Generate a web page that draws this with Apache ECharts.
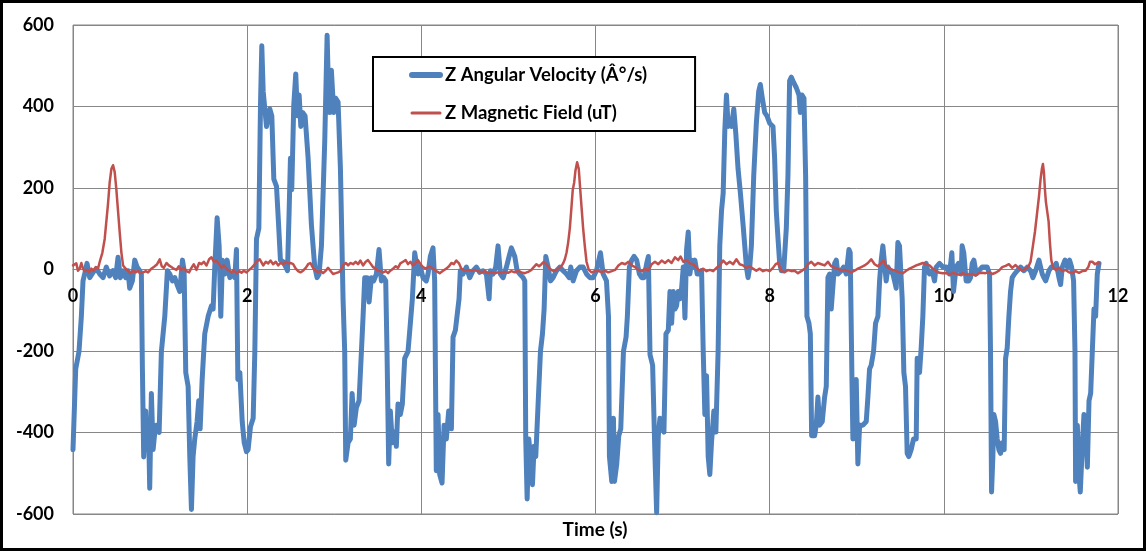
<!DOCTYPE html>
<html><head><meta charset="utf-8">
<script src="https://cdn.jsdelivr.net/npm/echarts@6/dist/echarts.min.js"></script>
<style>html,body{margin:0;padding:0;background:#fff}#c{width:1146px;height:551px}</style>
</head><body><div id="c"></div>
<script>
const xTicks = [0, 2, 4, 6, 8, 10, 12];
const yTicks = [-600, -400, -200, 0, 200, 400, 600];
const seriesNames = ['Z Angular Velocity (Â°/s)', 'Z Magnetic Field (uT)'];

const angTime = [0,0.031,0.069,0.096,0.115,0.134,0.161,0.192,0.230,0.268,0.307,0.345,0.383,0.421,0.460,0.490,0.517,0.544,0.575,0.605,0.632,0.651,0.682,0.709,0.736,0.766,0.785,0.797,0.812,0.835,0.851,0.866,0.881,0.900,0.920,0.939,0.958,0.989,1.015,1.054,1.084,1.111,1.142,1.169,1.195,1.226,1.257,1.276,1.295,1.322,1.341,1.360,1.379,1.398,1.425,1.444,1.460,1.483,1.513,1.552,1.590,1.609,1.628,1.655,1.678,1.697,1.716,1.743,1.770,1.801,1.828,1.858,1.877,1.893,1.916,1.943,1.966,1.992,2.011,2.038,2.069,2.088,2.107,2.134,2.153,2.168,2.184,2.203,2.222,2.241,2.260,2.283,2.306,2.337,2.363,2.382,2.413,2.444,2.463,2.482,2.497,2.512,2.535,2.558,2.577,2.597,2.616,2.639,2.665,2.700,2.738,2.776,2.803,2.826,2.853,2.891,2.918,2.933,2.948,2.967,2.994,3.017,3.044,3.071,3.101,3.120,3.132,3.159,3.185,3.205,3.228,3.254,3.285,3.312,3.331,3.350,3.377,3.400,3.426,3.453,3.484,3.514,3.541,3.568,3.591,3.606,3.625,3.644,3.667,3.694,3.713,3.732,3.759,3.782,3.809,3.847,3.874,3.897,3.924,3.943,3.962,3.989,4.019,4.057,4.077,4.103,4.134,4.153,4.172,4.192,4.211,4.238,4.261,4.287,4.314,4.345,4.364,4.391,4.410,4.433,4.448,4.479,4.517,4.556,4.594,4.632,4.670,4.709,4.747,4.778,4.793,4.824,4.854,4.881,4.908,4.939,4.977,5.008,5.034,5.073,5.100,5.130,5.169,5.188,5.199,5.215,5.234,5.253,5.276,5.295,5.314,5.341,5.368,5.391,5.410,5.429,5.456,5.483,5.513,5.552,5.590,5.628,5.667,5.697,5.716,5.743,5.782,5.820,5.858,5.897,5.935,5.973,6.011,6.038,6.057,6.088,6.126,6.149,6.160,6.187,6.206,6.218,6.244,6.267,6.290,6.321,6.351,6.366,6.389,6.416,6.443,6.473,6.504,6.531,6.557,6.588,6.607,6.626,6.656,6.683,6.702,6.721,6.740,6.760,6.786,6.809,6.836,6.855,6.874,6.893,6.912,6.931,6.950,6.969,6.989,7.008,7.027,7.046,7.065,7.084,7.103,7.122,7.141,7.168,7.198,7.218,7.237,7.256,7.275,7.294,7.313,7.332,7.359,7.382,7.408,7.427,7.447,7.466,7.485,7.504,7.523,7.542,7.561,7.588,7.611,7.637,7.664,7.695,7.714,7.733,7.752,7.771,7.790,7.817,7.847,7.874,7.893,7.916,7.943,7.969,8.000,8.038,8.057,8.076,8.096,8.115,8.134,8.161,8.191,8.210,8.229,8.249,8.275,8.306,8.337,8.352,8.371,8.394,8.413,8.428,8.451,8.467,8.482,8.516,8.535,8.554,8.574,8.604,8.631,8.650,8.669,8.688,8.707,8.727,8.746,8.765,8.784,8.822,8.849,8.880,8.910,8.925,8.945,8.956,8.975,8.994,9.013,9.033,9.071,9.109,9.128,9.147,9.166,9.193,9.216,9.243,9.262,9.281,9.300,9.319,9.338,9.358,9.384,9.415,9.434,9.453,9.472,9.491,9.522,9.541,9.560,9.579,9.598,9.625,9.652,9.683,9.694,9.721,9.740,9.759,9.778,9.797,9.816,9.836,9.866,9.893,9.912,9.950,9.989,10.027,10.065,10.092,10.111,10.141,10.168,10.199,10.210,10.229,10.256,10.287,10.307,10.326,10.345,10.372,10.402,10.441,10.471,10.498,10.525,10.536,10.548,10.563,10.575,10.594,10.613,10.632,10.651,10.670,10.693,10.709,10.728,10.747,10.766,10.785,10.812,10.843,10.881,10.920,10.958,10.996,11.023,11.054,11.092,11.111,11.130,11.149,11.169,11.207,11.234,11.264,11.291,11.322,11.341,11.360,11.391,11.418,11.444,11.467,11.490,11.506,11.513,11.533,11.552,11.567,11.590,11.609,11.628,11.648,11.667,11.686,11.705,11.724,11.743,11.762,11.782];
const angVel = [-442,-244,-201,-115,-28,-11,15,-20,-7,2,-11,-20,6,-16,-3,-20,30,-20,-3,-20,-3,-46,-28,23,6,-3,-11,-244,-460,-347,-442,-373,-537,-304,-442,-400,-382,-400,-201,-115,-3,-11,-28,-20,-37,-54,23,-3,-253,-287,-459,-589,-459,-416,-373,-322,-391,-270,-158,-115,-89,-97,6,127,58,-115,23,-11,23,-20,-11,-20,49,-270,-253,-373,-425,-447,-442,-386,-365,-201,75,101,403,549,437,394,351,351,394,377,222,204,101,23,19,6,-3,144,273,196,403,480,377,428,351,385,377,273,109,6,-20,-11,58,316,575,446,385,489,385,420,411,247,-72,-201,-468,-425,-416,-304,-382,-339,-322,-201,-115,-20,-20,-80,-20,-28,-11,49,-28,-20,-28,-201,-477,-347,-425,-399,-434,-330,-356,-330,-218,-201,-132,-72,41,41,-11,6,-20,-28,-11,32,53,-28,-494,-356,-503,-524,-382,-416,-347,-391,-166,-149,-149,-72,-3,-11,6,-20,-3,6,-7,-3,-11,-72,-3,-11,6,58,-11,-20,6,32,53,32,-3,-11,-20,-28,-416,-563,-416,-459,-528,-434,-459,-330,-201,-158,-97,32,6,-28,-20,-3,6,-3,-11,-20,6,-28,-3,6,6,-11,-20,-20,-3,23,41,-11,-28,-115,-459,-520,-365,-520,-477,-408,-391,-201,-166,-115,6,23,32,23,-11,-20,-20,15,32,-209,-235,-459,-597,-408,-365,-373,-399,-158,-149,-54,-132,-54,-97,-89,-54,-72,-46,6,-119,49,92,-11,23,6,23,-11,-11,-3,-201,-356,-261,-459,-503,-425,-347,-399,-201,58,144,187,342,428,351,359,351,394,334,247,187,109,58,6,-20,6,58,230,359,437,454,420,385,377,359,351,273,144,75,15,-3,-3,101,230,463,472,459,446,428,385,428,420,230,-115,-132,-158,-408,-408,-382,-313,-382,-373,-313,-287,-20,-11,-97,-97,15,23,-11,-3,6,-11,49,41,-270,-416,-416,-270,-477,-382,-382,-373,-313,-244,-235,-201,-132,-115,-28,23,58,58,-28,6,-3,-11,-28,-46,66,58,-72,-253,-287,-451,-459,-442,-416,-416,-218,-253,-192,-115,6,15,-3,-11,-3,-28,6,15,6,6,-11,41,-54,6,15,-11,58,41,-28,-28,-20,15,23,-11,-3,6,6,6,-11,-201,-546,-459,-356,-373,-416,-442,-451,-425,-442,-218,-192,-115,-54,-20,-11,-3,6,-3,6,-3,-20,-3,23,23,-11,-20,-28,-3,6,6,15,-20,-37,6,23,6,23,6,-28,-201,-520,-382,-503,-546,-434,-356,-373,-485,-322,-304,-201,-97,-115,-11,15];

const magTime = [0,0.019,0.038,0.057,0.077,0.096,0.115,0.134,0.161,0.184,0.211,0.238,0.261,0.287,0.307,0.337,0.364,0.383,0.402,0.421,0.441,0.460,0.479,0.498,0.517,0.536,0.556,0.575,0.605,0.632,0.659,0.690,0.720,0.747,0.774,0.805,0.835,0.862,0.900,0.939,0.966,0.996,1.019,1.042,1.073,1.100,1.130,1.157,1.188,1.215,1.245,1.272,1.303,1.333,1.360,1.387,1.418,1.448,1.475,1.502,1.533,1.563,1.590,1.617,1.648,1.678,1.705,1.732,1.762,1.793,1.820,1.847,1.877,1.908,1.935,1.962,1.992,2.023,2.050,2.077,2.107,2.145,2.184,2.214,2.241,2.268,2.298,2.329,2.356,2.382,2.413,2.444,2.470,2.497,2.528,2.558,2.585,2.612,2.642,2.673,2.700,2.726,2.757,2.788,2.814,2.841,2.872,2.902,2.929,2.956,2.986,3.017,3.044,3.071,3.101,3.132,3.159,3.185,3.216,3.247,3.273,3.300,3.331,3.361,3.388,3.415,3.445,3.476,3.503,3.530,3.560,3.591,3.618,3.644,3.675,3.706,3.732,3.759,3.790,3.820,3.847,3.874,3.904,3.935,3.962,3.989,4.019,4.050,4.096,4.134,4.172,4.211,4.249,4.287,4.318,4.345,4.372,4.402,4.433,4.460,4.498,4.536,4.575,4.613,4.651,4.690,4.728,4.766,4.805,4.843,4.881,4.920,4.958,4.996,5.034,5.073,5.111,5.149,5.188,5.226,5.264,5.291,5.322,5.352,5.379,5.406,5.437,5.467,5.494,5.521,5.552,5.582,5.609,5.628,5.648,5.667,5.686,5.705,5.724,5.739,5.755,5.770,5.789,5.808,5.828,5.843,5.858,5.877,5.897,5.923,5.954,5.992,6.031,6.069,6.107,6.146,6.187,6.225,6.263,6.302,6.340,6.378,6.416,6.454,6.492,6.531,6.569,6.607,6.645,6.683,6.721,6.760,6.798,6.836,6.874,6.912,6.950,6.977,7.008,7.046,7.084,7.122,7.160,7.198,7.237,7.275,7.313,7.351,7.389,7.427,7.466,7.504,7.542,7.580,7.618,7.656,7.695,7.733,7.771,7.809,7.847,7.885,7.924,7.962,8.000,8.038,8.069,8.099,8.134,8.172,8.210,8.249,8.287,8.325,8.363,8.402,8.440,8.478,8.516,8.554,8.593,8.631,8.669,8.707,8.746,8.784,8.822,8.860,8.899,8.937,8.975,9.013,9.052,9.090,9.128,9.166,9.205,9.243,9.281,9.308,9.338,9.377,9.415,9.453,9.491,9.530,9.568,9.606,9.644,9.683,9.721,9.759,9.797,9.836,9.874,9.912,9.950,9.989,10.027,10.065,10.103,10.141,10.179,10.218,10.256,10.326,10.364,10.402,10.441,10.479,10.517,10.556,10.594,10.632,10.670,10.709,10.747,10.785,10.824,10.862,10.900,10.939,10.969,10.996,11.023,11.046,11.069,11.092,11.111,11.126,11.138,11.149,11.161,11.172,11.188,11.203,11.218,11.234,11.253,11.284,11.322,11.360,11.398,11.437,11.475,11.513,11.552,11.590,11.628,11.659,11.678,11.705,11.736,11.762,11.789];
const magField = [10,6,15,-3,2,16,2,-4,-1,-7,2,-3,6,2,19,41,75,118,161,213,247,256,239,196,144,92,41,10,2,-3,-9,-3,-7,-3,-9,-7,-4,-7,2,8,13,25,8,4,16,10,6,2,-1,8,-1,4,-4,-7,4,13,-1,16,13,19,10,25,30,19,22,13,4,10,2,-3,-7,-1,-9,-4,-8,-3,-7,-1,4,10,19,25,10,19,15,22,13,19,10,16,13,19,15,16,13,2,-4,-7,-3,4,13,16,4,-3,-7,-3,-9,-3,4,-3,-11,-9,-7,-4,10,16,10,16,13,19,13,22,10,19,23,15,6,2,-3,-4,-7,-4,-9,-3,2,8,4,15,19,23,13,19,10,16,23,13,6,2,8,2,-4,-9,-3,2,8,16,13,22,15,2,-3,-1,-4,-1,-4,-7,-4,-9,-7,-9,-7,-9,-6,-8,-4,-7,-3,-7,-9,-6,-1,6,13,8,13,19,13,4,-1,-4,-1,4,8,15,25,41,66,101,153,196,213,243,263,247,187,144,101,58,19,-1,-7,-4,-3,-7,-3,-7,-4,-1,10,16,13,19,10,6,-1,-4,2,-3,13,19,13,22,16,23,16,30,23,32,19,23,15,13,4,-3,2,-4,-1,-4,4,10,22,13,19,13,25,13,10,4,8,2,-3,2,-4,-1,-4,4,13,16,-3,-7,-1,-4,-3,-9,-4,2,13,19,10,16,13,10,19,8,4,2,-3,-1,-4,-7,-3,2,6,10,16,25,13,8,16,22,8,2,-1,-4,-7,-9,-3,2,6,10,13,16,13,10,2,-4,-8,-9,-9,-13,-8,-11,-13,-9,-13,-11,-15,-9,-8,-9,-6,-11,-8,-3,6,9,13,4,11,3,-3,2,6,19,58,92,135,178,222,247,259,239,196,166,163,118,66,23,6,-1,4,-4,-1,-7,-9,-4,-8,-4,-3,6,19,19,13,16,15];

const angData = angTime.map((t, i) => [t, angVel[i]]);
const magData = magTime.map((t, i) => [t, magField[i]]);

const FONT = 'Lato';
const GRID = {left: 73, right: 28, top: 25, bottom: 37};
const plotH = 551 - GRID.top - GRID.bottom;
const chart = echarts.init(document.getElementById('c'), null, {renderer: 'canvas'});
chart.setOption({
  animation: false,
  backgroundColor: '#ffffff',
  grid: Object.assign({show: true, borderColor: '#878787', borderWidth: 1, containLabel: false}, GRID),
  xAxis: {
    type: 'value', min: xTicks[0], max: xTicks[xTicks.length - 1], interval: 2,
    position: 'bottom',
    offset: -plotH * (0 - yTicks[0]) / (yTicks[yTicks.length - 1] - yTicks[0]),
    axisLine: {show: true, onZero: false, lineStyle: {color: '#878787', width: 1}},
    axisTick: {show: false},
    splitLine: {show: true, lineStyle: {color: '#878787', width: 1}},
    axisLabel: {margin: 18, color: '#000', fontFamily: FONT, fontWeight: 'bold', fontSize: 18}
  },
  yAxis: {
    type: 'value', min: yTicks[0], max: yTicks[yTicks.length - 1], interval: 200,
    axisLine: {show: false}, axisTick: {show: false},
    splitLine: {show: true, lineStyle: {color: '#878787', width: 1}},
    axisLabel: {margin: 19, color: '#000', fontFamily: FONT, fontWeight: 'bold', fontSize: 18}
  },
  legend: {
    orient: 'vertical', left: 373, top: 57,
    padding: [8, 48, 8, 36], itemGap: 18, itemWidth: 28, itemHeight: 20,
    backgroundColor: '#fff', borderColor: '#000', borderWidth: 2, borderRadius: 0,
    textStyle: {color: '#000', fontFamily: FONT, fontWeight: 'bold', fontSize: 18.5, lineHeight: 20},
    itemStyle: {opacity: 0},
    data: [
      {name: seriesNames[0], itemStyle: {opacity: 0}, lineStyle: {width: 6, cap: 'round', color: '#4F81BD'}},
      {name: seriesNames[1], itemStyle: {opacity: 0}, lineStyle: {width: 3, cap: 'round', color: '#C0504D'}}
    ]
  },
  graphic: [
    {type: 'text', x: 595, y: 530, style: {text: 'Time (s)', textAlign: 'center', textVerticalAlign: 'middle',
      font: 'bold 19px Lato', fill: '#000'}},
    {type: 'rect', shape: {x: 1.5, y: 1.5, width: 1143, height: 548}, style: {fill: 'none', stroke: '#000', lineWidth: 3}, z: 100}
  ],
  series: [
    {name: seriesNames[0], type: 'line', data: angData, symbol: 'none', showSymbol: false,
      lineStyle: {color: '#4F81BD', width: 5, cap: 'round', join: 'round'}, itemStyle: {color: '#4F81BD'}, z: 2},
    {name: seriesNames[1], type: 'line', data: magData, symbol: 'none', showSymbol: false,
      lineStyle: {color: '#C0504D', width: 2.5, cap: 'round', join: 'round'}, itemStyle: {color: '#C0504D'}, z: 3}
  ]
});
</script></body></html>
